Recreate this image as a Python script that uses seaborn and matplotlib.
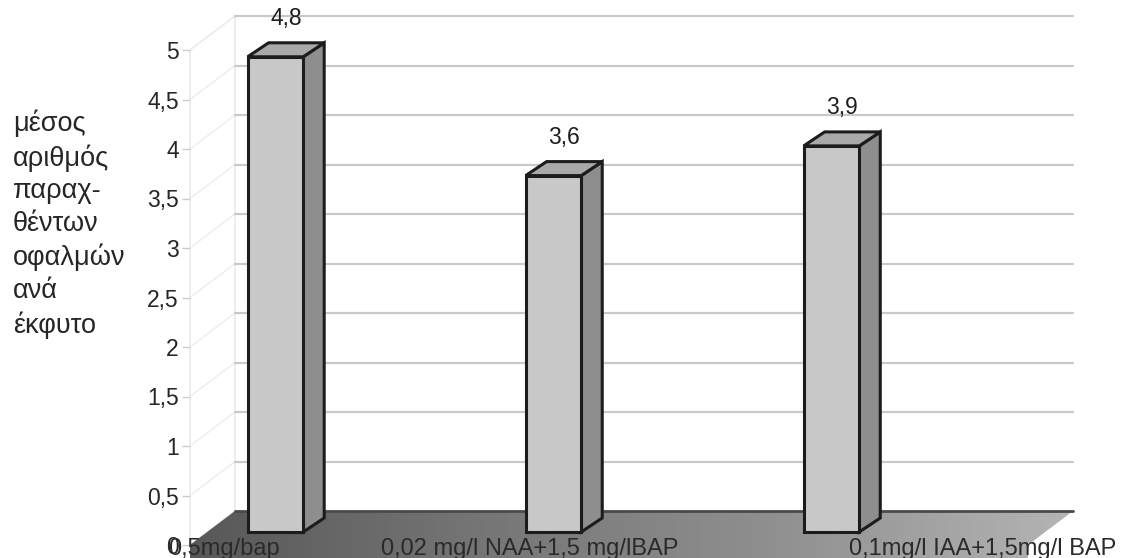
import numpy as np
import pandas as pd
import seaborn as sns
import matplotlib
matplotlib.use("Agg")
import matplotlib.pyplot as plt
from matplotlib.patches import Polygon
from matplotlib.transforms import ScaledTranslation
from matplotlib.colors import LinearSegmentedColormap

# ---- data ----
categories = ["0,5mg/bap", "0,02 mg/l NAA+1,5 mg/lBAP", "0,1mg/l IAA+1,5mg/l BAP"]
values = [4.8, 3.6, 3.9]
value_labels = ["4,8", "3,6", "3,9"]
y_ticks = [0, 0.5, 1, 1.5, 2, 2.5, 3, 3.5, 4, 4.5, 5]
y_tick_labels = ["0", "0,5", "1", "1,5", "2", "2,5", "3", "3,5", "4", "4,5", "5"]
y_label_lines = ["μέσος", "αριθμός", "παραχ-", "θέντων", "οφαλμών", "ανά", "έκφυτο"]

sns.set_theme(style="white")
plt.rcParams["font.family"] = ["Liberation Sans", "DejaVu Sans"]

W, H = 1121, 558
DPI = 100
fig = plt.figure(figsize=(W / DPI, H / DPI), dpi=DPI)
fig.patch.set_facecolor("white")

# background (pixel coordinates, y downward) for 3D walls/floor
bg = fig.add_axes([0, 0, 1, 1])
bg.set_autoscale_on(False)
bg.set_xlim(0, W)
bg.set_ylim(H, 0)
bg.axis("off")

L, R, B, T = 190, 1028, 545, 50
ax = fig.add_axes([L / W, (H - B) / H, (R - L) / W, (B - T) / H])
ax.patch.set_alpha(0)

df = pd.DataFrame({"cat": categories, "val": values})
sns.barplot(data=df, x="cat", y="val", ax=ax, width=0.2, color="#c8c8c8",
            edgecolor="#1c1c1c", linewidth=2.2, saturation=1, zorder=3)
ax.set_xlim(-0.246, 2.768)
ax.set_ylim(0, 5)
ax.set_xlabel("")
ax.set_ylabel("")
for s in ax.spines.values():
    s.set_visible(False)

ax.set_yticks(y_ticks)
ax.set_yticklabels(y_tick_labels)
ax.tick_params(axis="y", length=6, width=1, color="#cccccc", labelsize=16.5,
               labelcolor="#262626", pad=2, left=True)
ax.set_xticks(range(len(categories)))
ax.set_xticklabels([""] * len(categories))
ax.tick_params(axis="x", length=0)

# depth geometry (pixels)
DX, DY = 45, 34          # back wall offset
BOX, BOY = 17, 13        # bar front-face offset
BDX, BDY = 21, 14        # bar depth


def px(xd, yd):
    d = ax.transData.transform((xd, yd))
    return d[0], H - d[1]


x0d, x1d = ax.get_xlim()

# left wall
bg.add_patch(Polygon([(L, B), (L, T), (L + DX, T - DY), (L + DX, B - DY)],
                     closed=True, facecolor="white", edgecolor="#e6e6e6", lw=1, zorder=0.5))
for v in y_ticks[1:]:
    xx, yy = px(x0d, v)
    bg.plot([xx, xx + DX], [yy, yy - DY], color="#ededed", lw=1, zorder=0.6)

# back wall gridlines
for v in y_ticks[1:]:
    xa, ya = px(x0d, v)
    xb, _ = px(x1d, v)
    bg.plot([xa + DX, xb + DX], [ya - DY, ya - DY], color="#c9c9c9", lw=1.6, zorder=0.7)

# floor
fl, fr = px(x0d, 0)[0], px(x1d, 0)[0]
floor_pts = [(fl, B + 13), (fl, B), (fl + DX, B - DY), (fr + DX, B - DY), (fr, B), (fr, B + 13)]
floor = Polygon(floor_pts, closed=True, facecolor="none", edgecolor="none", zorder=1)
bg.add_patch(floor)
cmap = LinearSegmentedColormap.from_list("floor", ["#585858", "#767676", "#909090", "#b4b4b4"])
im = bg.imshow(np.linspace(0, 1, 256)[None, :], extent=[fl, fr + DX, B + 13, B - DY],
               cmap=cmap, aspect="auto", zorder=1, interpolation="bilinear")
im.set_clip_path(floor)
bg.plot([fl + DX, fr + DX], [B - DY, B - DY], color="#4a4a4a", lw=2, zorder=1.2)

# bars: shift front faces into depth, add side & top faces
shift = ScaledTranslation(BOX / DPI, BOY / DPI, fig.dpi_scale_trans)
for p in ax.patches:
    bx0, by0 = p.get_x(), p.get_y()
    bx1, by1 = bx0 + p.get_width(), by0 + p.get_height()
    ax0p, ay1p = px(bx0, by1)
    ax1p, ay0p = px(bx1, by0)
    ax0p += BOX; ax1p += BOX; ay1p -= BOY; ay0p -= BOY
    side = [(ax1p, ay1p), (ax1p + BDX, ay1p - BDY), (ax1p + BDX, ay0p - BDY), (ax1p, ay0p)]
    top = [(ax0p, ay1p), (ax0p + BDX, ay1p - BDY), (ax1p + BDX, ay1p - BDY), (ax1p, ay1p)]
    bg.add_patch(Polygon(side, closed=True, facecolor="#8e8e8e", edgecolor="#1c1c1c", lw=2.2, zorder=2))
    bg.add_patch(Polygon(top, closed=True, facecolor="#a9a9a9", edgecolor="#1c1c1c", lw=2.2, zorder=2))
    p.set_transform(ax.transData + shift)

# value labels
for i, (v, lbl) in enumerate(zip(values, value_labels)):
    ax.annotate(lbl, xy=(i, v), xytext=(BOX + BDX / 2, 51), textcoords="offset pixels",
                ha="center", va="center", fontsize=16.5, color="#1e1e1e", annotation_clip=False)

# category labels on the floor
label_dx = [-34, -7, 168]
for i, (c, dx) in enumerate(zip(categories, label_dx)):
    ax.annotate(c, xy=(i, 0), xytext=(dx, -4), textcoords="offset pixels",
                ha="center", va="center", fontsize=17, color="#2a2a2a", annotation_clip=False,
                zorder=5)

# y axis title
fig.text(13 / W, 1 - 224 / H, "\n".join(y_label_lines), ha="left", va="center",
         fontsize=19.5, color="#262626", linespacing=1.33)

bg.set_xlim(0, W)
bg.set_ylim(H, 0)
fig.savefig("out.png", dpi=DPI, facecolor="white")
